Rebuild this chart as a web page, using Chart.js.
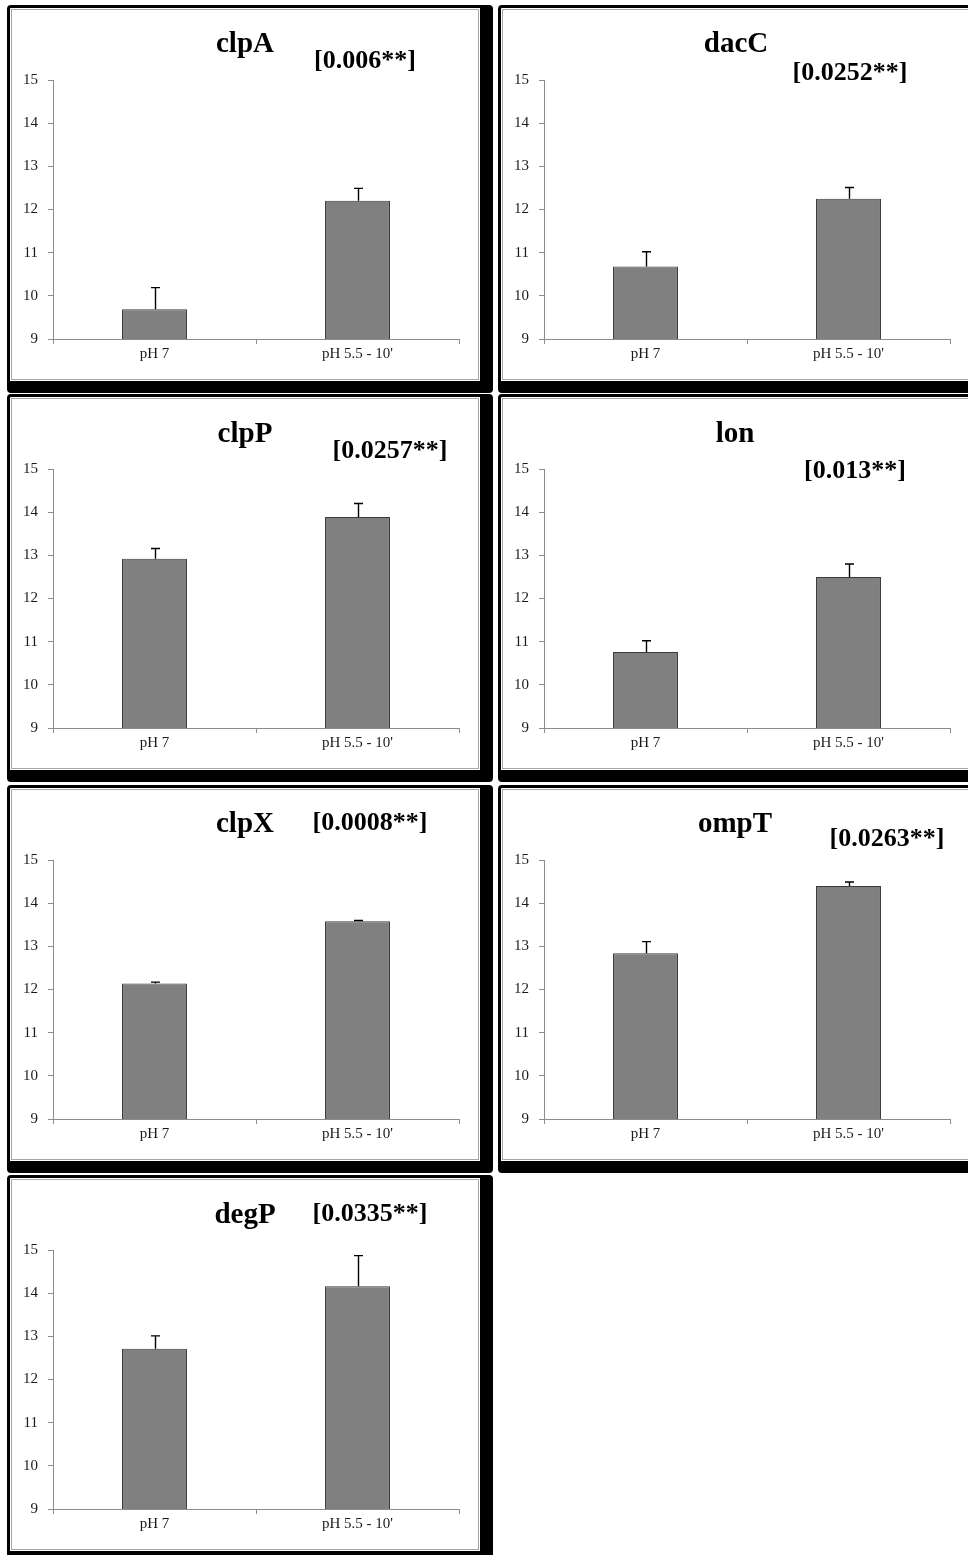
<!DOCTYPE html>
<html>
<head>
<meta charset="utf-8">
<title>Protease gene expression, pH 7 vs pH 5.5</title>
<script src="https://cdn.jsdelivr.net/npm/chart.js@4.4.1/dist/chart.umd.min.js"></script>
<style>
  html, body { margin: 0; padding: 0; background: #fff; }
  body { width: 968px; height: 1555px; position: relative; overflow: hidden; font-family: "Liberation Serif", "Times New Roman", serif; }
  .panel {
    position: absolute; box-sizing: border-box; width: 486px; height: 388px;
    border-style: solid; border-color: #000; border-width: 3px 13px 12px 3px;
    border-radius: 4px; background: #fff;
  }
  .inner { position: absolute; left: 1px; top: 1px; width: 466px; height: 369px; border: 1px solid #a6a6a6; }
  .inner canvas { position: absolute; left: 0; top: 0; }
  .title, .pval {
    position: absolute; transform: translate(-50%, -50%); white-space: nowrap;
    font-weight: bold; line-height: 1; color: #000;
  }
  .title { font-size: 29px; }
  .pval { font-size: 26px; }
</style>
</head>
<body>
<script>
// data
const categories = ['pH 7', "pH 5.5 - 10'"];
const genes   = ['clpA', 'dacC', 'clpP', 'lon', 'clpX', 'ompT', 'degP'];
const pValues = ['[0.006**]', '[0.0252**]', '[0.0257**]', '[0.013**]', '[0.0008**]', '[0.0263**]', '[0.0335**]'];
const meanPH7  = [9.69, 10.68, 12.92, 10.76, 12.14, 12.84, 12.71];
const meanPH55 = [12.20, 12.25, 13.89, 12.50, 13.58, 14.40, 14.16];
const errPH7   = [0.50, 0.34, 0.24, 0.26, 0.03, 0.27, 0.30];
const errPH55  = [0.29, 0.26, 0.31, 0.30, 0.02, 0.09, 0.71];
const yMin = 9, yMax = 15, yStep = 1;

// panel placement (outer box) and label offsets inside each panel
const panelPos = [
  { left: 7,   top: 5 },
  { left: 498, top: 5 },
  { left: 7,   top: 394 },
  { left: 498, top: 394 },
  { left: 7,   top: 785 },
  { left: 498, top: 785 },
  { left: 7,   top: 1175 }
];
const titlePos = [[235, 34], [235, 34], [235, 35], [234, 35], [235, 34], [234, 34], [235, 35]];
const pvalPos  = [[355, 52], [349, 64], [380, 53], [354, 73], [360, 34], [386, 50], [360, 35]];

const tickFont = { family: '"Liberation Serif", "Times New Roman", serif', size: 15 };
const axisGray = '#8c8c8c';

// draws plus-only error bars on top of the bars
const errorBarPlugin = {
  id: 'errorBars',
  afterDatasetsDraw(chart, args, opts) {
    const ctx = chart.ctx;
    const yScale = chart.scales.y;
    const meta = chart.getDatasetMeta(0);
    const vals = chart.data.datasets[0].data;
    const errs = opts.errors || [];
    ctx.save();
    ctx.strokeStyle = '#000';
    ctx.lineWidth = 1.4;
    meta.data.forEach((bar, i) => {
      const top = yScale.getPixelForValue(vals[i] + (errs[i] || 0));
      const x = Math.round(bar.x) + 0.5;
      ctx.beginPath();
      ctx.moveTo(x, bar.y);
      ctx.lineTo(x, top);
      ctx.moveTo(x - 4.5, top);
      ctx.lineTo(x + 4.5, top);
      ctx.stroke();
    });
    ctx.restore();
  }
};

function makePanel(i) {
  const panel = document.createElement('div');
  panel.className = 'panel';
  panel.style.left = panelPos[i].left + 'px';
  panel.style.top = panelPos[i].top + 'px';

  const inner = document.createElement('div');
  inner.className = 'inner';
  const canvas = document.createElement('canvas');
  canvas.width = 466;
  canvas.height = 369;
  inner.appendChild(canvas);
  panel.appendChild(inner);

  const t = document.createElement('div');
  t.className = 'title';
  t.textContent = genes[i];
  t.style.left = titlePos[i][0] + 'px';
  t.style.top = titlePos[i][1] + 'px';
  panel.appendChild(t);

  const p = document.createElement('div');
  p.className = 'pval';
  p.textContent = pValues[i];
  p.style.left = pvalPos[i][0] + 'px';
  p.style.top = pvalPos[i][1] + 'px';
  panel.appendChild(p);

  document.body.appendChild(panel);

  new Chart(canvas.getContext('2d'), {
    type: 'bar',
    data: {
      labels: categories,
      datasets: [{
        data: [meanPH7[i], meanPH55[i]],
        backgroundColor: '#808080',
        borderColor: '#3a3a3a',
        borderWidth: 1,
        borderSkipped: 'bottom',
        categoryPercentage: 1,
        barPercentage: 0.32
      }]
    },
    options: {
      responsive: false,
      animation: false,
      devicePixelRatio: 1,
      layout: { padding: { left: 0, top: 70, right: 19, bottom: 0 } },
      plugins: {
        legend: { display: false },
        tooltip: { enabled: false },
        errorBars: { errors: [errPH7[i], errPH55[i]] }
      },
      scales: {
        x: {
          offset: true,
          grid: { offset: true, drawOnChartArea: false, drawTicks: true, tickLength: 5, color: axisGray },
          border: { display: true, color: axisGray, width: 1 },
          ticks: { font: tickFont, color: '#1a1a1a', padding: 1, maxRotation: 0 },
          afterFit: s => { s.height = 40; }
        },
        y: {
          min: yMin, max: yMax,
          grid: { drawOnChartArea: false, drawTicks: true, tickLength: 5, color: axisGray },
          border: { display: true, color: axisGray, width: 1 },
          ticks: { stepSize: yStep, font: tickFont, color: '#1a1a1a', padding: 10 },
          afterFit: s => { s.width = 41; }
        }
      }
    },
    plugins: [errorBarPlugin]
  });
}

genes.forEach((g, i) => makePanel(i));
</script>
</body>
</html>
